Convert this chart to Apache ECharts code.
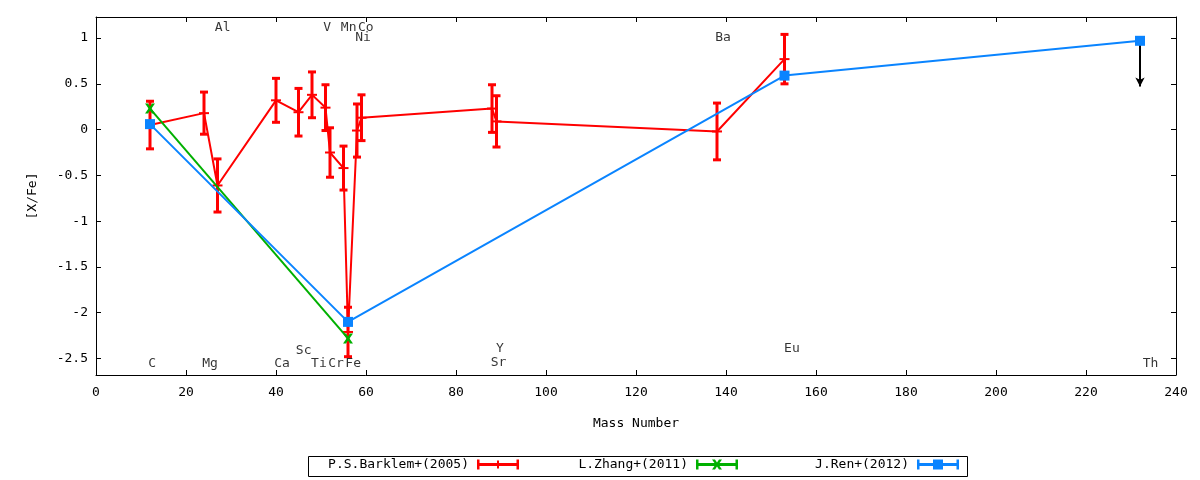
<!DOCTYPE html>
<html>
<head>
<meta charset="utf-8">
<script src="https://cdn.jsdelivr.net/npm/echarts@6/dist/echarts.min.js"></script>
<style>
  html, body { margin: 0; padding: 0; background: #fff; }
  #chart { width: 1200px; height: 480px; }
</style>
</head>
<body>
<div id="chart"></div>
<script>
// P.S.Barklem+(2005): mass number, [X/Fe], error
const barklemMass = [12, 24, 27, 40, 45, 48, 51, 52, 55, 56, 58, 59, 88, 89, 138, 153];
const barklemVal  = [0.05, 0.18, -0.61, 0.32, 0.19, 0.38, 0.24, -0.25, -0.42, -2.21, -0.01, 0.13, 0.23, 0.09, -0.02, 0.77];
const barklemErr  = [0.26, 0.23, 0.29, 0.24, 0.26, 0.25, 0.25, 0.27, 0.24, 0.27, 0.29, 0.25, 0.26, 0.28, 0.31, 0.27];

// L.Zhang+(2011)
const zhangMass = [12, 56];
const zhangVal  = [0.23, -2.28];

// J.Ren+(2012)
const renMass = [12, 56, 153, 232];
const renVal  = [0.06, -2.10, 0.59, 0.97];

// upper limit arrow (Th)
const limitMass = 232;
const limitFrom = 0.97;
const limitTo   = 0.47;

// element labels: name, x (mass), y ([X/Fe])
const elemNames = ['C', 'Mg', 'Ca', 'Sc', 'Ti', 'Cr', 'Fe', 'Al', 'V', 'Mn', 'Co', 'Ni', 'Ba', 'Y', 'Sr', 'Eu', 'Th'];
const elemX     = [11.6, 23.6, 39.6, 44.4, 47.8, 51.6, 55.4, 26.4, 50.5, 54.4, 58.2, 57.6, 137.6, 88.9, 87.7, 152.9, 232.6];
const elemY     = [-2.56, -2.56, -2.56, -2.41, -2.56, -2.56, -2.56, 1.11, 1.11, 1.11, 1.11, 1.0, 1.0, -2.39, -2.55, -2.39, -2.56];

const xTicks = { min: 0, max: 240, interval: 20 };
const yRange = { min: -2.68, max: 1.23 };

const font = 'DejaVu Sans Mono';
const RED = '#ff0000', GREEN = '#00b000', BLUE = '#0a84ff';

const chart = echarts.init(document.getElementById('chart'), null, { renderer: 'canvas' });

function yLabel(v) {
  if (Math.abs(v * 2 - Math.round(v * 2)) > 1e-6) return '';
  return String(+v.toFixed(1));
}

const axisCommon = {
  axisLine: { show: true, onZero: false, lineStyle: { color: '#000', width: 1 } },
  axisTick: { show: true, inside: true, length: 5, lineStyle: { color: '#000' } },
  splitLine: { show: false }
};

function legend(name, icon, right) {
  return {
    data: [{ name: name, icon: icon }],
    right: right,
    top: 458,
    align: 'right',
    orient: 'horizontal',
    padding: 0,
    itemWidth: 42,
    itemHeight: 10,
    itemGap: 0,
    selectedMode: false,
    itemStyle: { borderWidth: 0 },
    textStyle: { fontFamily: font, fontSize: 13, color: '#000', padding: [0, 3, 0, 0] }
  };
}

const iconRed = 'path://M0,0H2.5V10H0Z M2.5,3.5H39.5V6.5H2.5Z M39.5,0H42V10H39.5Z M20,1H22V9H20Z';
const iconGreen = 'path://M0,0H2.5V10H0Z M2.5,3.5H39.5V6.5H2.5Z M39.5,0H42V10H39.5Z M16,0H19L21,3L23,0H26L22.5,5L26,10H23L21,7L19,10H16L19.5,5Z';
const iconBlue = 'path://M0,0H2.5V10H0Z M2.5,3.5H39.5V6.5H2.5Z M39.5,0H42V10H39.5Z M16,0H26V10H16Z';

const option = {
  animation: false,
  backgroundColor: '#fff',
  textStyle: { fontFamily: font },
  grid: { left: 96, right: 24, top: 17, bottom: 105, containLabel: false },
  legend: [
    legend('P.S.Barklem+(2005)', iconRed, 1200 - 519),
    legend('L.Zhang+(2011)', iconGreen, 1200 - 738),
    legend('J.Ren+(2012)', iconBlue, 1200 - 959)
  ],
  graphic: [{
    type: 'rect', left: 306, top: 454, silent: true,
    shape: { width: 659, height: 20 },
    style: { fill: 'none', stroke: '#000', lineWidth: 1 }
  }],
  xAxis: [
    Object.assign({
      type: 'value', position: 'bottom',
      min: xTicks.min, max: xTicks.max, interval: xTicks.interval,
      name: 'Mass Number', nameLocation: 'middle', nameGap: 42,
      nameTextStyle: { fontFamily: font, fontSize: 13, color: '#000' },
      axisLabel: { margin: 11, fontFamily: font, fontSize: 13, color: '#000' }
    }, axisCommon),
    Object.assign({
      type: 'value', position: 'top',
      min: xTicks.min, max: xTicks.max, interval: xTicks.interval,
      axisLabel: { show: false }
    }, axisCommon)
  ],
  yAxis: [
    Object.assign({
      type: 'value', position: 'left',
      min: yRange.min, max: yRange.max, splitNumber: 8,
      name: '[X/Fe]', nameLocation: 'middle', nameGap: 57,
      nameTextStyle: { fontFamily: font, fontSize: 13, color: '#000' },
      axisLabel: { margin: 8, fontFamily: font, fontSize: 13, color: '#000', formatter: yLabel,
                   showMinLabel: true, showMaxLabel: true }
    }, axisCommon),
    Object.assign({
      type: 'value', position: 'right',
      min: yRange.min, max: yRange.max, splitNumber: 8,
      axisLabel: { show: false }
    }, axisCommon)
  ],
  series: [
    {
      name: 'P.S.Barklem+(2005)',
      type: 'line',
      data: barklemMass.map((m, i) => [m, barklemVal[i]]),
      showSymbol: false,
      symbol: 'none',
      color: RED,
      lineStyle: { color: RED, width: 2 },
      z: 2
    },
    {
      type: 'custom',
      data: barklemMass.map((m, i) => [m, barklemVal[i], barklemErr[i]]),
      encode: { x: 0, y: 1 },
      z: 3,
      silent: true,
      renderItem: function (params, api) {
        const x = api.value(0), v = api.value(1), e = api.value(2);
        const top = api.coord([x, v + e]);
        const bot = api.coord([x, v - e]);
        const c = api.coord([x, v]);
        const st = { stroke: RED, lineWidth: 3 };
        return {
          type: 'group',
          children: [
            { type: 'line', shape: { x1: top[0], y1: top[1], x2: bot[0], y2: bot[1] }, style: st },
            { type: 'line', shape: { x1: top[0] - 4, y1: top[1], x2: top[0] + 4, y2: top[1] }, style: st },
            { type: 'line', shape: { x1: bot[0] - 4, y1: bot[1], x2: bot[0] + 4, y2: bot[1] }, style: st },
            { type: 'line', shape: { x1: c[0] - 5, y1: c[1], x2: c[0] + 5, y2: c[1] }, style: { stroke: RED, lineWidth: 2 } }
          ]
        };
      }
    },
    {
      name: 'L.Zhang+(2011)',
      type: 'line',
      data: zhangMass.map((m, i) => [m, zhangVal[i]]),
      color: GREEN,
      symbol: 'path://M0,0H3L5,3L7,0H10L6.5,5L10,10H7L5,7L3,10H0L3.5,5Z',
      symbolSize: 10,
      itemStyle: { color: GREEN, borderWidth: 0 },
      lineStyle: { color: GREEN, width: 2 },
      z: 4
    },
    {
      name: 'J.Ren+(2012)',
      type: 'line',
      data: renMass.map((m, i) => [m, renVal[i]]),
      color: BLUE,
      symbol: 'rect',
      symbolSize: 10,
      itemStyle: { color: BLUE, borderWidth: 0 },
      lineStyle: { color: BLUE, width: 2 },
      z: 5,
      markLine: {
        silent: true,
        symbol: ['none', 'arrow'],
        symbolSize: [7, 9],
        label: { show: false },
        lineStyle: { color: '#000', width: 2, type: 'solid' },
        data: [[{ coord: [limitMass, limitFrom] }, { coord: [limitMass, limitTo] }]]
      }
    },
    {
      type: 'scatter',
      data: elemNames.map((n, i) => ({ name: n, value: [elemX[i], elemY[i]] })),
      symbolSize: 0,
      silent: true,
      z: 6,
      label: {
        show: true,
        position: 'right',
        distance: 0,
        formatter: '{b}',
        fontFamily: font,
        fontSize: 13,
        color: '#000'
      }
    }
  ]
};

chart.setOption(option);
</script>
</body>
</html>
